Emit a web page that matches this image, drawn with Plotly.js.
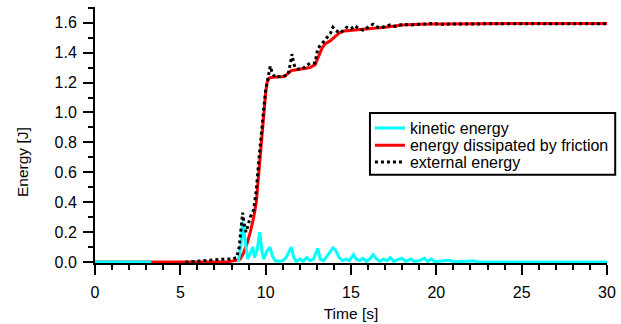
<!DOCTYPE html>
<html>
<head>
<meta charset="utf-8">
<script src="https://cdn.plot.ly/plotly-3.0.1.min.js"></script>
<style>html,body{margin:0;padding:0;background:#fff;}#chart{width:621px;height:324px;}</style>
</head>
<body>
<div id="chart"></div>
<script>
// Kinetic energy (cyan); null = gap in the recorded series
const kinT = [0, 3.3, 3.31, 8.4, 8.55, 8.65, 8.75, 8.85, 8.95, 9.1, 9.25, 9.35, 9.5, 9.65, 9.8, 9.9, 10.05, 10.25, 10.4, 10.55, 10.8, 11.0, 11.2, 11.5, 11.65, 11.8, 12.0, 12.2, 12.4, 12.6, 12.8, 13.05, 13.2, 13.4, 13.6, 13.8, 13.95, 14.1, 14.3, 14.5, 14.7, 14.9, 15.15, 15.3, 15.5, 15.7, 15.9, 16.1, 16.3, 16.5, 16.7, 16.9, 17.1, 17.3, 17.5, 17.7, 18.0, 18.2, 18.5, 18.7, 19.0, 19.3, 19.5, 19.7, 19.9, 20.3, 20.8, 21.0, 21.5, 22.2, 22.5, 30];
const kinE = [0, 0, null, 0.0, 0.12, 0.27, 0.2, 0.1, 0.02, 0.06, 0.1, 0.03, 0.08, 0.2, 0.06, 0.02, 0.07, 0.1, 0.04, 0.01, 0.005, 0.01, 0.03, 0.1, 0.03, 0.005, 0.02, 0.005, 0.03, 0.01, 0.02, 0.09, 0.02, 0.01, 0.04, 0.07, 0.095, 0.08, 0.03, 0.01, 0.02, 0.01, 0.05, 0.02, 0.01, 0.025, 0.005, 0.02, 0.05, 0.02, 0.005, 0.02, 0.01, 0.03, 0.005, 0.015, 0.025, 0.005, 0.02, 0.005, 0.01, 0.025, 0.005, 0.02, 0.003, 0.008, 0.012, 0.002, 0.004, 0.008, 0, 0];

// Energy dissipated by friction (red)
const fricT = [0, 7.5, 7.8, 8.2, 8.5, 8.7, 8.9, 9.1, 9.3, 9.45, 9.6, 9.7, 9.8, 9.9, 10.0, 10.08, 10.2, 10.4, 10.8, 11.1, 11.3, 11.5, 11.8, 12.2, 12.6, 12.9, 13.1, 13.3, 13.5, 13.8, 14.0, 14.3, 14.6, 15.0, 15.5, 16, 16.5, 17, 17.5, 18, 19, 20, 25, 30];
const fricE = [0, 0, 0.003, 0.01, 0.02, 0.06, 0.12, 0.2, 0.3, 0.4, 0.6, 0.75, 0.9, 1.02, 1.13, 1.2, 1.23, 1.235, 1.235, 1.24, 1.26, 1.28, 1.285, 1.29, 1.3, 1.32, 1.38, 1.43, 1.46, 1.48, 1.5, 1.53, 1.545, 1.55, 1.555, 1.56, 1.565, 1.57, 1.58, 1.585, 1.59, 1.592, 1.595, 1.595];

// External energy (black dotted)
const extT = [5.3, 5.8, 6.3, 6.8, 7.2, 7.6, 8.0, 8.3, 8.45, 8.55, 8.65, 8.75, 8.85, 8.95, 9.1, 9.3, 9.45, 9.6, 9.75, 9.9, 10.0, 10.12, 10.2, 10.27, 10.37, 10.54, 10.8, 11.1, 11.31, 11.45, 11.54, 11.62, 11.72, 11.9, 12.13, 12.35, 12.6, 12.89, 13.06, 13.3, 13.59, 13.8, 13.94, 14.1, 14.35, 14.55, 14.76, 15.0, 15.23, 15.45, 15.7, 16.0, 16.29, 16.55, 16.87, 17.1, 17.28, 17.6, 18.04, 18.5, 19.2, 19.8, 20.3, 21, 22, 25, 30];
const extE = [0.0, 0.005, 0.008, 0.012, 0.015, 0.02, 0.02, 0.03, 0.1, 0.22, 0.33, 0.25, 0.2, 0.24, 0.3, 0.35, 0.48, 0.68, 0.88, 1.04, 1.15, 1.22, 1.29, 1.31, 1.27, 1.235, 1.24, 1.245, 1.25, 1.33, 1.39, 1.34, 1.30, 1.29, 1.29, 1.31, 1.33, 1.33, 1.43, 1.46, 1.5, 1.53, 1.57, 1.55, 1.53, 1.55, 1.57, 1.56, 1.58, 1.56, 1.55, 1.57, 1.59, 1.57, 1.57, 1.58, 1.585, 1.575, 1.59, 1.585, 1.59, 1.595, 1.59, 1.592, 1.592, 1.593, 1.593];

const xTickVals = [0, 5, 10, 15, 20, 25, 30];
const yTickVals = [0, 0.2, 0.4, 0.6, 0.8, 1.0, 1.2, 1.4, 1.6];
const yTickText = ['0.0', '0.2', '0.4', '0.6', '0.8', '1.0', '1.2', '1.4', '1.6'];
const xTitle = 'Time [s]';
const yTitle = 'Energy [J]';

const traces = [
  {x: fricT, y: fricE, name: 'energy dissipated by friction', mode: 'lines', legend: 'legend2',
   line: {color: '#ff0000', width: 3}},
  {x: kinT, y: kinE, name: 'kinetic energy', mode: 'lines', legend: 'legend', connectgaps: false,
   line: {color: '#00ffff', width: 3}},
  {x: extT, y: extE, name: 'external energy', mode: 'lines', legend: 'legend3',
   line: {color: '#000000', width: 3, dash: 'dot'}}
];

const FAM = 'Liberation Sans, Arial, sans-serif';
const tickFont = {family: FAM, size: 16, color: '#000'};
const titleFont = {family: FAM, size: 15.5, color: '#000'};
const legFont = {family: FAM, size: 16, color: '#000'};
const legBase = {x: 0.537, xanchor: 'left', yanchor: 'middle', bgcolor: 'rgba(0,0,0,0)',
                 borderwidth: 0, font: legFont};

const layout = {
  width: 621, height: 324,
  margin: {l: 95, r: 14, t: 7, b: 61},
  paper_bgcolor: '#fff', plot_bgcolor: '#fff',
  font: tickFont,
  showlegend: true,
  legend: Object.assign({y: 0.527}, legBase),
  legend2: Object.assign({y: 0.4598}, legBase),
  legend3: Object.assign({y: 0.3945}, legBase),
  shapes: [{type: 'rect', xref: 'paper', yref: 'paper', x0: 0.537, x1: 1.016, y0: 0.345, y1: 0.586,
            line: {color: '#000', width: 2}, fillcolor: 'rgba(255,255,255,1)', layer: 'above'}],
  annotations: [{text: yTitle, xref: 'paper', yref: 'paper', x: -0.1426, y: 0.3945,
                 xanchor: 'center', yanchor: 'middle', textangle: -90, showarrow: false, font: titleFont}],
  xaxis: {
    range: [0, 30], showgrid: false, zeroline: false,
    showline: true, linecolor: '#000', linewidth: 2,
    ticks: 'outside', ticklen: 10, tickwidth: 2, tickcolor: '#000',
    tickvals: xTickVals, ticktext: xTickVals.map(String),
    tickfont: tickFont, ticklabelstandoff: 4,
    minor: {dtick: 1, tick0: 0, ticks: 'outside', ticklen: 5, tickwidth: 2, tickcolor: '#000', showgrid: false},
    title: {text: xTitle, font: titleFont, standoff: 8}
  },
  yaxis: {
    range: [-0.006, 1.705], showgrid: false, zeroline: false,
    showline: true, linecolor: '#000', linewidth: 2,
    ticks: 'outside', ticklen: 10, tickwidth: 2, tickcolor: '#000',
    tickvals: yTickVals, ticktext: yTickText,
    tickfont: tickFont, ticklabelstandoff: 3,
    minor: {dtick: 0.1, tick0: 0, ticks: 'outside', ticklen: 5, tickwidth: 2, tickcolor: '#000', showgrid: false}
  }
};

Plotly.newPlot('chart', traces, layout, {displayModeBar: false, staticPlot: true});
</script>
</body>
</html>
